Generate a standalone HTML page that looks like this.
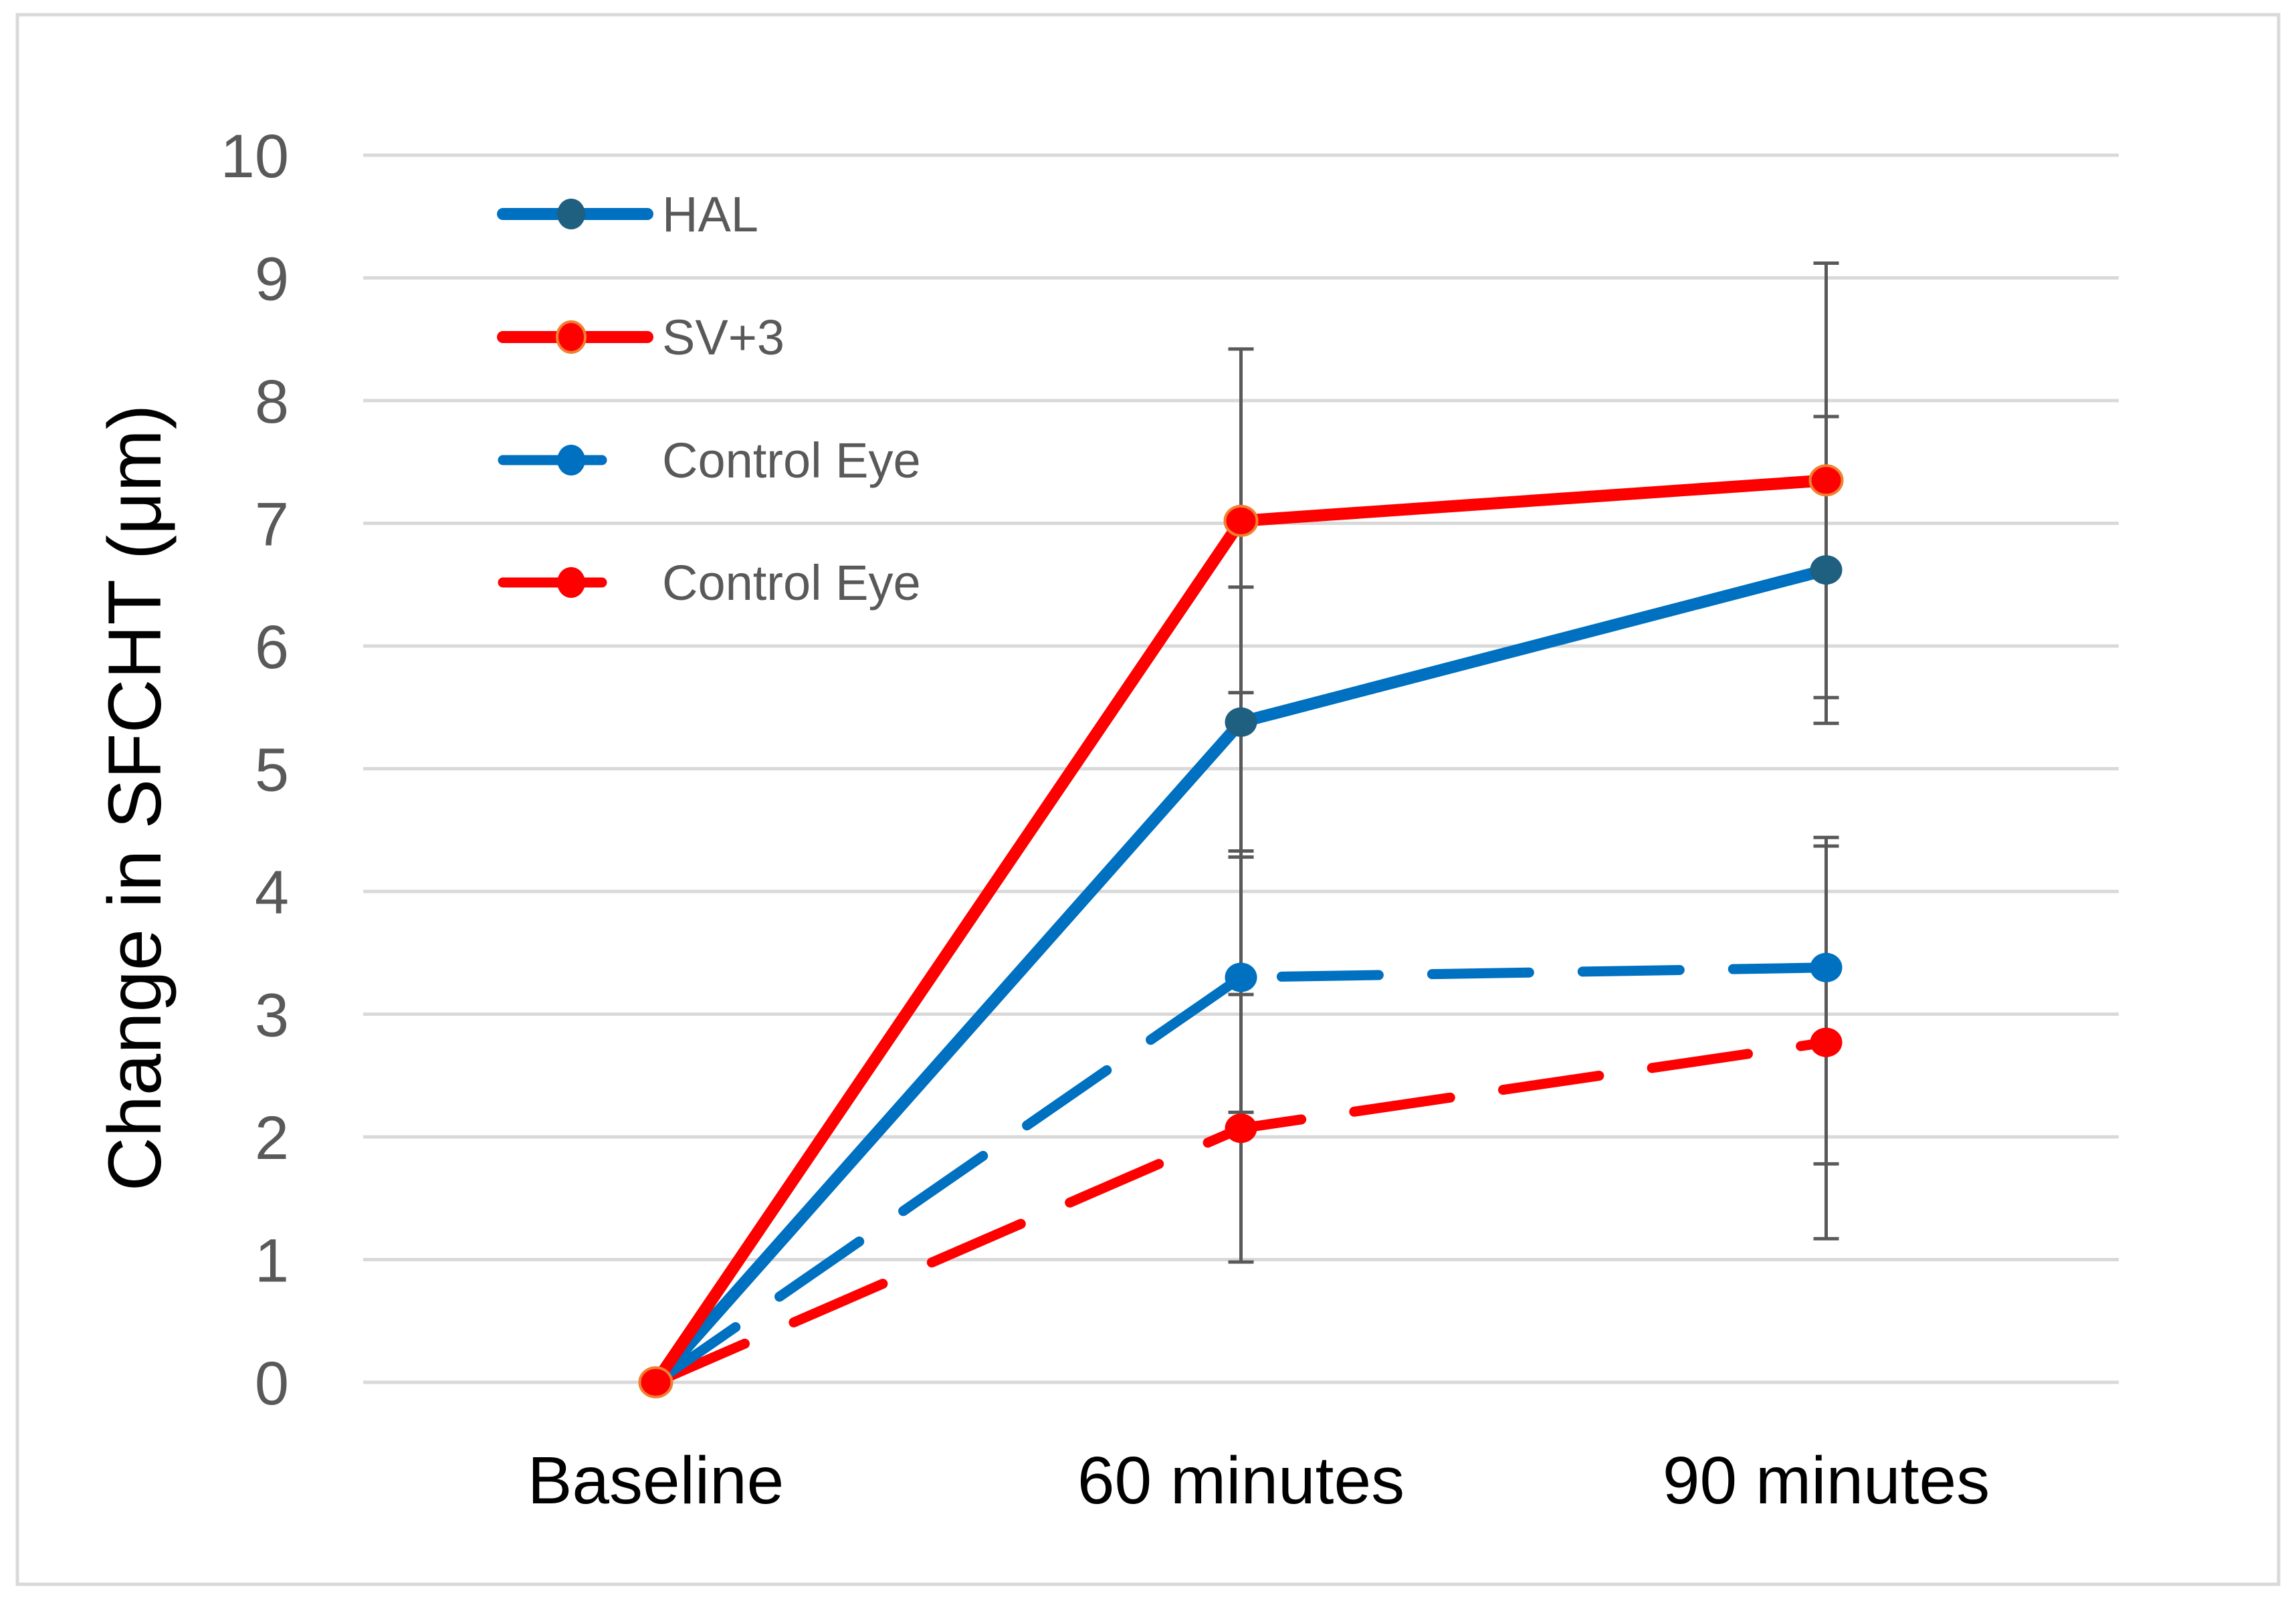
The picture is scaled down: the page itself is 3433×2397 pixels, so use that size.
<!DOCTYPE html>
<html><head><meta charset="utf-8"><style>
html,body{margin:0;padding:0;background:#fff;}
svg{display:block;}
text{font-family:"Liberation Sans",sans-serif;}
</style></head><body>
<svg id="chart" width="3433" height="2397" viewBox="0 0 3433 2397" xmlns="http://www.w3.org/2000/svg">
<rect x="26" y="22" width="3381" height="2347" fill="#fff" stroke="#d9d9d9" stroke-width="5"/>
<g id="grid"></g>
<g id="yticks"></g>
<g id="xticks"></g>
<text x="0" y="0" transform="translate(240,1193) rotate(-90)" text-anchor="middle" font-size="112" fill="#000">Change in SFCHT (μm)</text>
<g id="series"></g>
<g id="legend"></g>
</svg>
<script>
const categories = ["Baseline", "60 minutes", "90 minutes"];
const yTicks = [0,1,2,3,4,5,6,7,8,9,10];
const seriesNames = ["HAL", "SV+3", "Control Eye", "Control Eye"];
const halValues = [0, 5.38, 6.62];
const sv3Values = [0, 7.02, 7.35];
const ctrlBlueValues = [0, 3.30, 3.38];
const ctrlRedValues = [0, 2.07, 2.77];
const halErrPlus = [0, 1.1, 1.25];
const halErrMinus = [0, 1.1, 1.25];
const sv3ErrPlus = [0, 1.4, 1.77];
const sv3ErrMinus = [0, 1.4, 1.77];
const ctrlBlueErrPlus = [0, 1.03, 1.06];
const ctrlBlueErrMinus = [0, 1.1, 1.6];
const ctrlRedErrPlus = [0, 1.09, 1.6];
const ctrlRedErrMinus = [0, 1.09, 1.6];

const NS = "http://www.w3.org/2000/svg";
const plotLeft = 543, plotRight = 3168, yTop = 232, yBottom = 2067, yMax = 10;
function yScale(v){ return yBottom - (v / yMax) * (yBottom - yTop); }
function xScale(i){ const band = (plotRight - plotLeft) / categories.length; return plotLeft + band * (i + 0.5); }
function mk(tag, attrs, parent){ const e = document.createElementNS(NS, tag); for (const k in attrs) e.setAttribute(k, attrs[k]); parent.appendChild(e); return e; }

const grid = document.getElementById('grid');
const yt = document.getElementById('yticks');
yTicks.forEach(v => {
  const l = mk('line', {x1: plotLeft, x2: plotRight, y1: yScale(v), y2: yScale(v), stroke: '#d9d9d9', 'stroke-width': 5}, grid);
  
  
  const t = mk('text', {x: 432, y: yScale(v) + 33, 'text-anchor': 'end', 'font-size': 92, fill: '#595959'}, yt);
  t.textContent = v;
  
  
});
const xt = document.getElementById('xticks');
categories.forEach((c, i) => {
  const t = mk('text', {x: xScale(i), y: 2248, 'text-anchor': 'middle', 'font-size': 100, fill: '#000'}, xt);
  t.textContent = c;
  
  
});

const series = document.getElementById('series');
const defs = [
  {vals: ctrlRedValues, ep: ctrlRedErrPlus, em: ctrlRedErrMinus, color: '#ff0000', marker: '#ff0000', mstroke: 'none', dash: '145 80', w: 15},
  {vals: ctrlBlueValues, ep: ctrlBlueErrPlus, em: ctrlBlueErrMinus, color: '#0070c0', marker: '#0070c0', mstroke: 'none', dash: '145 80', w: 15},
  {vals: halValues, ep: halErrPlus, em: halErrMinus, color: '#0070c0', marker: '#1f5f7f', mstroke: 'none', dash: null, w: 18},
  {vals: sv3Values, ep: sv3ErrPlus, em: sv3ErrMinus, color: '#ff0000', marker: '#ff0000', mstroke: '#f08030', dash: null, w: 18}
];
const eg = mk('g', {}, series);


defs.forEach(d => {
  d.vals.forEach((v, i) => {
    if (!d.ep[i] && !d.em[i]) return;
    const x = xScale(i), hi = yScale(v + d.ep[i]), lo = yScale(v - d.em[i]);
    const b = mk('path', {d: `M${x},${hi}V${lo}M${x-19},${hi}H${x+19}M${x-19},${lo}H${x+19}`, stroke: '#595959', 'stroke-width': 5, fill: 'none'}, eg);
    
    
  });
});
defs.forEach((d, si) => {
  const g = mk('g', {}, series);
  
  
  const pts = d.vals.map((v, i) => xScale(i) + ',' + yScale(v)).join(' ');
  const pl = mk('polyline', {points: pts, fill: 'none', stroke: d.color, 'stroke-width': d.w, 'stroke-linecap': 'round', 'stroke-linejoin': 'round'}, g);
  if (d.dash) pl.setAttribute('stroke-dasharray', d.dash);
  
  
  d.vals.forEach((v, i) => {
    const c = mk('ellipse', {cx: xScale(i), cy: yScale(v), rx: 24, ry: 22, fill: d.marker}, g);
    if (d.mstroke !== 'none') { c.setAttribute('stroke', d.mstroke); c.setAttribute('stroke-width', 4); }
    
    
  });
});

const legend = document.getElementById('legend');
const legY = [320, 504, 688, 871];
const legDefs = [defs[2], defs[3], defs[1], defs[0]];
seriesNames.forEach((n, i) => {
  const d = legDefs[i];
  const g = mk('g', {}, legend);
  
  
  const x2 = d.dash ? 900 : 968;
  mk('line', {x1: 752, x2: x2, y1: legY[i], y2: legY[i], stroke: d.color, 'stroke-width': d.w, 'stroke-linecap': 'round'}, g);
  const m = mk('ellipse', {cx: 854, cy: legY[i], rx: 21, ry: 23, fill: d.marker}, g);
  if (d.mstroke !== 'none') { m.setAttribute('stroke', d.mstroke); m.setAttribute('stroke-width', 4); }
  const t = mk('text', {x: 990, y: legY[i] + 26, 'font-size': 74, fill: '#595959'}, g);
  t.textContent = n;
  
  
});
</script>
</body></html>
